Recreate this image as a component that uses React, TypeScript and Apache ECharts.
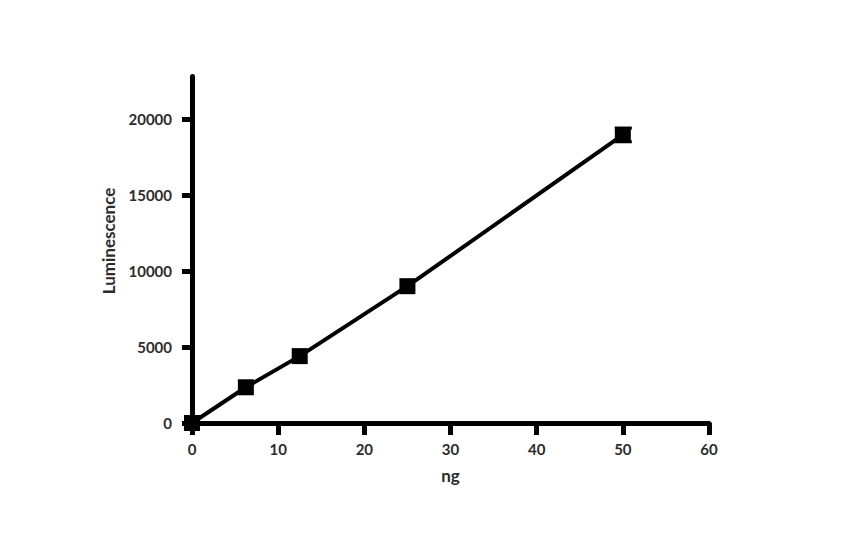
import React, { useEffect, useRef } from "react";
import * as echarts from "echarts";

const ngValues = [0, 6.25, 12.5, 25, 50];
const luminescence = [0, 2350, 4400, 9000, 18950];
const errors = [0, 0, 0, 0, 450];
const yTicks = [0, 5000, 10000, 15000, 20000];
const xTicks = [0, 10, 20, 30, 40, 50, 60];

const FONT = "Lato";
const TEXT = "#2b2b2b";

export default function App() {
  const ref = useRef<HTMLDivElement>(null);
  useEffect(() => {
    document.body.style.margin = "0";
    const chart = echarts.init(ref.current!, null, { renderer: "svg" });
    const points = ngValues.map((x, i) => [x, luminescence[i]]);
    const errData = ngValues.map((x, i) => [x, luminescence[i] - errors[i], luminescence[i] + errors[i]]);
    chart.setOption({
      animation: false,
      backgroundColor: "#ffffff",
      grid: { left: 192, right: 147, top: 76.4, bottom: 128, containLabel: false },
      xAxis: {
        type: "value",
        min: 0,
        max: 60,
        interval: 10,
        name: "ng",
        nameLocation: "middle",
        nameGap: 44,
        nameTextStyle: { fontFamily: FONT, fontSize: 17, fontWeight: "bold", color: TEXT },
        splitLine: { show: false },
        axisLine: { show: true, onZero: false, lineStyle: { color: "#000", width: 5 } },
        axisTick: { show: true, length: 12, lineStyle: { color: "#000", width: 5 }, customValues: xTicks },
        axisLabel: { margin: 18, fontFamily: FONT, fontSize: 15, fontWeight: "bold", color: TEXT, customValues: xTicks },
      },
      yAxis: {
        type: "value",
        min: 0,
        max: 22800,
        splitLine: { show: false },
        axisLine: { show: true, onZero: false, lineStyle: { color: "#000", width: 5 } },
        axisTick: { show: true, length: 10, lineStyle: { color: "#000", width: 5 }, customValues: yTicks },
        axisLabel: {
          margin: 20,
          fontFamily: FONT,
          fontSize: 15,
          fontWeight: "bold",
          color: TEXT,
          customValues: yTicks,
          formatter: (v: number) => String(v),
        },
      },
      graphic: [
        {
          type: "text",
          x: 108,
          y: 241,
          rotation: Math.PI / 2,
          style: {
            text: "Luminescence",
            fontFamily: FONT,
            fontSize: 17,
            fontWeight: "bold",
            fill: TEXT,
            align: "center",
            verticalAlign: "middle",
          },
        },
      ],
      series: [
        {
          type: "line",
          data: points,
          symbol: "rect",
          symbolSize: 16,
          itemStyle: { color: "#000" },
          lineStyle: { color: "#000", width: 4 },
          z: 3,
        },
        {
          type: "custom",
          data: errData,
          z: 4,
          renderItem: (params: any, api: any) => {
            const x = api.value(0);
            const lo = api.coord([x, api.value(1)]);
            const hi = api.coord([x, api.value(2)]);
            if (Math.abs(lo[1] - hi[1]) < 1) return null;
            const hw = 8;
            const style = { stroke: "#000", lineWidth: 3 };
            return {
              type: "group",
              children: [
                { type: "line", shape: { x1: lo[0], y1: lo[1], x2: hi[0], y2: hi[1] }, style },
                { type: "line", shape: { x1: lo[0] - hw, y1: lo[1], x2: lo[0] + hw + 1, y2: lo[1] }, style },
                { type: "line", shape: { x1: hi[0] - hw, y1: hi[1], x2: hi[0] + hw + 1, y2: hi[1] }, style },
              ],
            };
          },
        },
      ],
    });
    return () => chart.dispose();
  }, []);
  return <div ref={ref} style={{ width: 856, height: 551 }} />;
}
